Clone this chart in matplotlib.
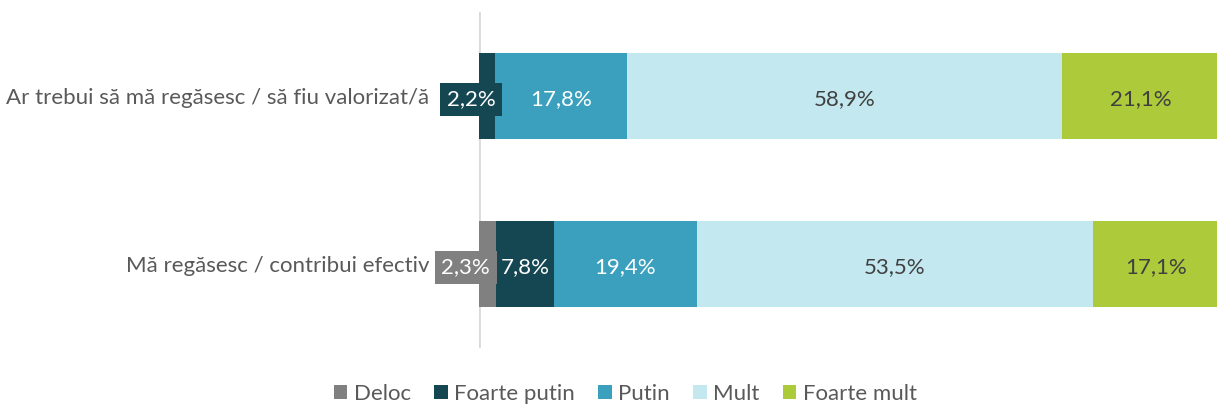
import matplotlib.pyplot as plt
import numpy as np

# data
categories = ["Mă regăsesc / contribui efectiv", "Ar trebui să mă regăsesc / să fiu valorizat/ă"]
series = ["Deloc", "Foarte putin", "Putin", "Mult", "Foarte mult"]
deloc = [2.3, 0.0]
foarte_putin = [7.8, 2.2]
putin = [19.4, 17.8]
mult = [53.5, 58.9]
foarte_mult = [17.1, 21.1]

colors = ["#808080", "#154753", "#3aa0be", "#c3e8f0", "#acca3a"]
text_colors = ["white", "white", "white", "#404040", "#404040"]

plt.rcParams['font.family'] = ['Lato', 'DejaVu Sans']
fs = 16

fig = plt.figure(figsize=(12.17, 4.09), dpi=100)
ax = fig.add_axes([0.3936, 0.149, 0.6064, 0.8217])

y = np.arange(len(categories))
left = np.zeros(len(categories))
for name, vals, c, tc in zip(series, [deloc, foarte_putin, putin, mult, foarte_mult], colors, text_colors):
    vals = np.array(vals)
    ax.barh(y, vals, left=left, height=0.51, color=c, label=name)
    for yi, v, l in zip(y, vals, left):
        if v <= 0:
            continue
        txt = f"{v:.1f}%".replace(".", ",")
        if v < 5:
            # small segment: boxed label pushed left of the bar
            ax.text(l - 1.1 - (yi == 0) * 0.7, yi - 0.02, txt, ha='center', va='center',
                    color=tc, fontsize=fs,
                    bbox=dict(boxstyle='square,pad=0.3', fc=c, ec='none'))
        else:
            ax.text(l + v / 2, yi - 0.02, txt, ha='center', va='center', color=tc, fontsize=fs)
    left = left + vals

ax.set_xlim(0, 99.8)
ax.set_ylim(-0.5, 1.5)
ax.set_yticks(y)
ax.set_yticklabels(categories, fontsize=fs, color='#595959')
ax.tick_params(axis='y', length=0, pad=36)
ax.set_xticks([])
for s in ax.spines.values():
    s.set_visible(False)
ax.axvline(0, color='#d9d9d9', lw=2, zorder=0)

handles, labels = ax.get_legend_handles_labels()
fig.legend(handles, labels, loc='center', bbox_to_anchor=(0.514, 0.037), ncol=5, frameon=False,
           fontsize=fs, labelcolor='#595959', handlelength=0.6, handleheight=0.6,
           handletextpad=0.3, columnspacing=1.05, borderpad=0.1)

fig.savefig("out.png", dpi=100)
